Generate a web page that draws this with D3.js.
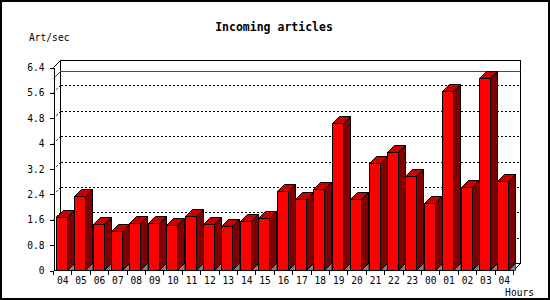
<!DOCTYPE html>
<html>
<head>
<meta charset="utf-8">
<script src="https://cdn.jsdelivr.net/npm/d3@7"></script>
<style>
  body { margin: 0; background: #fff; }
  text { font-family: "DejaVu Sans Mono", monospace; fill: #000; }
</style>
</head>
<body>
<div id="chart"></div>
<script>
// hours shown along the bottom (25 slots, 04 .. 04)
var hours = ["04","05","06","07","08","09","10","11","12","13","14","15","16",
             "17","18","19","20","21","22","23","00","01","02","03","04"];
// articles per second
var artPerSec = [1.66, 2.33, 1.45, 1.22, 1.47, 1.47, 1.41, 1.70, 1.45, 1.39, 1.53, 1.63,
                 2.48, 2.23, 2.54, 4.63, 2.23, 3.36, 3.71, 2.95, 2.10, 5.63, 2.61, 6.04, 2.80];
var yTicks = [0, 0.8, 1.6, 2.4, 3.2, 4, 4.8, 5.6, 6.4];
var yTickLabels = ["0", "0.8", "1.6", "2.4", "3.2", "4", "4.8", "5.6", "6.4"];

var W = 550, H = 300;
var depth = 7; // 3d offset
var svg = d3.select("#chart").append("svg").attr("width", W).attr("height", H);

var x = d3.scaleBand().domain(d3.range(hours.length)).range([53.5, 513.5]);
var y = d3.scaleLinear().domain([0, 6.4]).range([270.5, 67.5]);
var bw = x.bandwidth();
function py(v) { return Math.round(y(v) - 0.5) + 0.5; }

// outer frame
svg.append("rect").attr("x", 1).attr("y", 1).attr("width", 548).attr("height", 298)
  .attr("fill", "#fff").attr("stroke", "#000").attr("stroke-width", 2);

// title + axis names
svg.append("text").attr("x", 274).attr("y", 31).attr("text-anchor", "middle")
  .style("font-size", "11.5px").style("font-weight", "bold").text("Incoming articles");
svg.append("text").attr("x", 29).attr("y", 41).style("font-size", "9.6px").text("Art/sec");
svg.append("text").attr("x", 534).attr("y", 296).attr("text-anchor", "end")
  .style("font-size", "9.6px").text("Hours");

var x0 = x.range()[0], x1 = x.range()[1];

// back wall
svg.append("rect")
  .attr("x", x0 + depth).attr("y", py(6.4) - depth)
  .attr("width", x1 - x0).attr("height", py(0) - py(6.4))
  .attr("fill", "#fff").attr("stroke", "#000").attr("shape-rendering", "crispEdges");

// dotted grid lines, wrapping from the front axis to the back wall
yTicks.filter(function(d) { return d > 0 && d < 6.4; }).forEach(function(d) {
  var g = py(d);
  svg.append("line").attr("x1", x0).attr("y1", g).attr("x2", x0 + depth).attr("y2", g - depth)
    .attr("stroke", "#000").attr("stroke-dasharray", "2,2");
  svg.append("line").attr("x1", x0 + depth).attr("y1", g - depth).attr("x2", x1 + depth).attr("y2", g - depth)
    .attr("stroke", "#000").attr("stroke-dasharray", "2,2").attr("shape-rendering", "crispEdges");
});

// top corner joining front axis and back wall
svg.append("line").attr("x1", x0).attr("y1", py(6.4)).attr("x2", x0 + depth).attr("y2", py(6.4) - depth)
  .attr("stroke", "#000");

// red line at the maximum value
var maxV = d3.max(artPerSec), ym = py(maxV);
svg.append("polyline")
  .attr("points", [[x0, ym], [x0 + depth, ym - depth], [x1 + depth, ym - depth]].join(" "))
  .attr("fill", "none").attr("stroke", "#ff0000");

// floor edge on the right
svg.append("line").attr("x1", x1).attr("y1", py(0)).attr("x2", x1 + depth).attr("y2", py(0) - depth)
  .attr("stroke", "#000");

// bars
var bars = svg.append("g").selectAll("g").data(artPerSec).enter().append("g");
var fw = Math.round(bw * 0.62), off = bw * 0.15;

bars.each(function(v, i) {
  var g = d3.select(this);
  var l = Math.round(x(i) + off - 0.5) + 0.5, r = l + fw, t = py(v), b = py(0);
  // floor shadow under the side face
  g.append("polygon")
    .attr("points", [[r, b], [r + depth, b - depth], [r + depth, b]].join(" "))
    .attr("fill", "#808080").attr("stroke", "#000").attr("stroke-width", 0.6);
  g.append("polygon")
    .attr("points", [[r, t], [r + depth, t - depth], [r + depth, b - depth], [r, b]].join(" "))
    .attr("fill", "#800000").attr("stroke", "#000");
  g.append("polygon")
    .attr("points", [[l, t], [l + depth, t - depth], [r + depth, t - depth], [r, t]].join(" "))
    .attr("fill", "#c80000").attr("stroke", "#000");
  g.append("rect").attr("x", l).attr("y", t).attr("width", fw).attr("height", b - t)
    .attr("fill", "#ff0000").attr("stroke", "#000").attr("shape-rendering", "crispEdges");
});

// y axis
var yAxis = d3.axisLeft(y).tickValues(yTicks).tickSize(4).tickSizeOuter(0)
  .tickFormat(function(d, i) { return yTickLabels[i]; });
var ya = svg.append("g").attr("transform", "translate(" + x0 + ",0)").call(yAxis);
ya.selectAll("text").style("font-size", "9.6px").attr("x", -9);
ya.selectAll("path, line").attr("stroke", "#000").attr("shape-rendering", "crispEdges");

// x axis: line, boundary ticks, labels in the middle of each slot
svg.append("line").attr("x1", x0).attr("x2", x1).attr("y1", py(0)).attr("y2", py(0))
  .attr("stroke", "#000").attr("shape-rendering", "crispEdges");
var bounds = d3.range(hours.length + 1).map(function(i) { return x0 + i * bw; });
svg.append("g").selectAll("line").data(bounds).enter().append("line")
  .attr("x1", function(d) { return Math.round(d - 0.5) + 0.5; })
  .attr("x2", function(d) { return Math.round(d - 0.5) + 0.5; })
  .attr("y1", py(0)).attr("y2", py(0) + 4)
  .attr("stroke", "#000").attr("shape-rendering", "crispEdges");
svg.append("g").selectAll("text").data(hours).enter().append("text")
  .attr("x", function(d, i) { return x(i) + bw / 2; })
  .attr("y", 284).attr("text-anchor", "middle")
  .style("font-size", "9.6px")
  .text(function(d) { return d; });
</script>
</body>
</html>
